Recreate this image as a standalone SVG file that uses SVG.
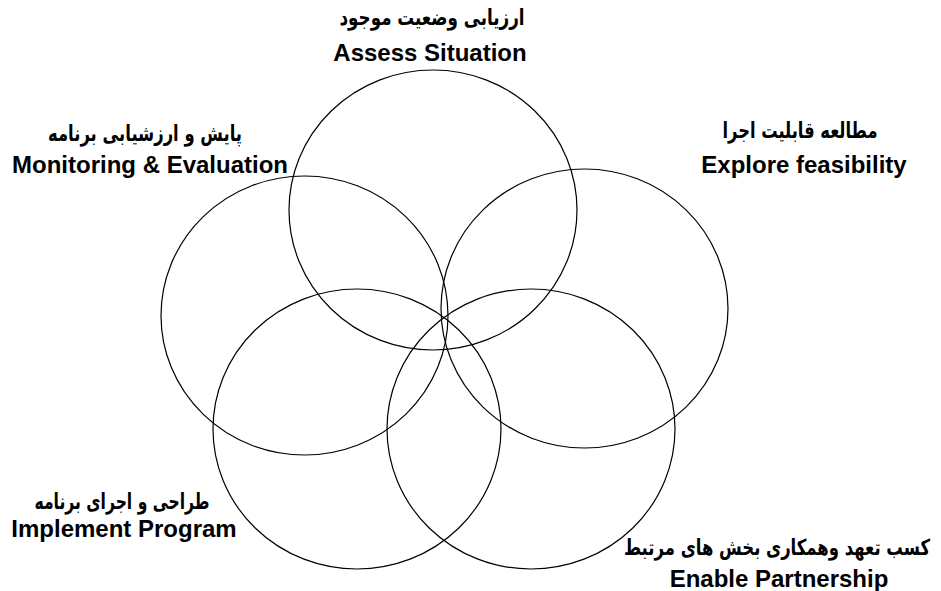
<svg xmlns="http://www.w3.org/2000/svg" width="941" height="591" viewBox="0 0 941 591">
<style>
.c{fill:none;stroke:#000;stroke-width:1.2}
.en{font-family:"Liberation Sans",Arial,sans-serif;font-weight:bold;font-size:24px;fill:#000;text-anchor:middle}
.fa{font-family:"DejaVu Sans","Noto Sans",sans-serif;font-weight:bold;font-size:22px;fill:#000;text-anchor:middle;direction:rtl}
</style>
<rect width="941" height="591" fill="#fff"/>
<g id="circles">
<ellipse id="assess" class="c" cx="433" cy="210" rx="144" ry="140"/>
<ellipse id="explore" class="c" cx="584.5" cy="308.5" rx="143.5" ry="139.5"/>
<ellipse id="monitor" class="c" cx="304.5" cy="315.5" rx="143.5" ry="139.5"/>
<ellipse id="implement" class="c" cx="357" cy="429" rx="144" ry="140"/>
<ellipse id="partner" class="c" cx="531" cy="429" rx="144" ry="140"/>
</g>
<g id="label-assess">
<text class="fa" x="432" y="25" textLength="185" lengthAdjust="spacingAndGlyphs">ارزیابی وضعیت موجود</text>
<text class="en" x="430" y="61">Assess Situation</text>
</g>
<g id="label-explore">
<text class="fa" x="800" y="138" textLength="155" lengthAdjust="spacingAndGlyphs">مطالعه قابلیت اجرا</text>
<text class="en" x="804" y="173">Explore feasibility</text>
</g>
<g id="label-monitor">
<text class="fa" x="145" y="141" textLength="194" lengthAdjust="spacingAndGlyphs">پایش و ارزشیابی برنامه</text>
<text class="en" x="150" y="173">Monitoring &amp; Evaluation</text>
</g>
<g id="label-implement">
<text class="fa" x="122" y="509" textLength="175" lengthAdjust="spacingAndGlyphs">طراحی و اجرای برنامه</text>
<text class="en" x="124" y="537">Implement Program</text>
</g>
<g id="label-partner">
<text class="fa" x="777" y="555" textLength="306" lengthAdjust="spacingAndGlyphs">کسب تعهد وهمکاری بخش های مرتبط</text>
<text class="en" x="779" y="587">Enable Partnership</text>
</g>
</svg>
